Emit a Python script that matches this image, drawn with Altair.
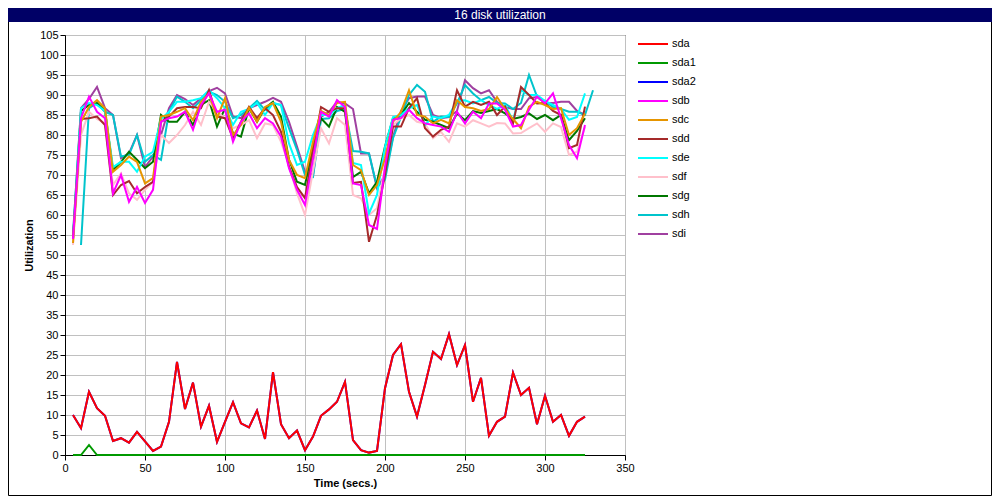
import altair as alt
import pandas as pd

# ---------------- data ----------------
series_names = ["sda", "sda1", "sda2", "sdb", "sdc", "sdd", "sde", "sdf", "sdg", "sdh", "sdi"]
series_colors = ["#ff0000", "#009900", "#0000ff", "#ff00ff", "#e69500", "#a52a2a",
                 "#00ffff", "#ffc0cb", "#007700", "#00c4cc", "#a040a0"]

times = list(range(5, 330, 5))        # 5 .. 325 s
times_sdh = list(range(10, 335, 5))   # sdh is one sample later: 10 .. 330 s

sda = [10, 6.7, 15.8, 11.7, 9.8, 3.5, 4.2, 3.1, 5.8, 3.4, 1.0, 2.1, 8.3, 23.3, 11.5, 18.1,
       7.1, 12.3, 3.3, 8.3, 13.2, 7.9, 6.9, 11.1, 4.0, 20.7, 7.7, 4.2, 6.1, 1.2, 4.6, 9.8,
       11.4, 13.3, 18.3, 3.7, 1.2, 0.6, 1.0, 16.7, 25.0, 27.7, 15.8, 9.6, 17.5, 25.8, 24.0,
       30.2, 22.5, 27.5, 13.3, 19.3, 4.8, 8.3, 9.6, 20.6, 15.0, 16.8, 7.7, 14.8, 8.3, 10.0,
       4.8, 8.3, 9.6]
sda1 = [0, 0, 2.5, 0, 0, 0, 0, 0, 0, 0, 0, 0, 0, 0, 0, 0, 0, 0, 0, 0, 0, 0, 0, 0, 0, 0,
        0, 0, 0, 0, 0, 0, 0, 0, 0, 0, 0, 0, 0, 0, 0, 0, 0, 0, 0, 0, 0, 0, 0, 0, 0, 0, 0, 0,
        0, 0, 0, 0, 0, 0, 0, 0, 0, 0, 0]
sda2 = [10, 6.7, 15.8, 11.7, 9.8, 3.5, 4.2, 3.1, 5.8, 3.4, 1.0, 2.1, 8.3, 23.3, 11.5, 18.1,
        7.1, 12.3, 3.3, 8.3, 13.2, 7.9, 6.9, 11.1, 4.0, 20.7, 7.7, 4.2, 6.1, 1.2, 4.6, 9.8,
        11.4, 13.3, 18.3, 3.7, 1.2, 0.6, 1.0, 16.7, 25.0, 27.7, 15.8, 9.6, 17.5, 25.8, 24.0,
        30.2, 22.5, 27.5, 13.3, 19.3, 4.8, 8.3, 9.6, 20.6, 15.0, 16.8, 7.7, 14.8, 8.3, 10.0,
        4.8, 8.3, 9.6]
sdb = [54, 84.2, 89.6, 85.8, 84.2, 65.4, 70, 63.3, 67, 63, 66.3, 83.3, 84.2, 84.6, 85.8,
       81.3, 87.5, 90.4, 85.8, 86.3, 78.3, 83.3, 85.4, 81.7, 84.2, 82.9, 79.6, 71.7, 66.3,
       62.5, 74, 85.8, 84.6, 88.7, 87, 67.9, 67.5, 57.5, 56.5, 72, 83.8, 84.2, 86.3, 84.2,
       82.9, 82.5, 82.1, 80.8, 85.8, 82.9, 85.8, 84.2, 87.9, 87.9, 86.3, 82.1, 82.5, 86.3,
       89.6, 87.9, 90.4, 84.2, 77.5, 74.2, 82.5]
sdc = [53, 83.3, 87, 88.7, 86.7, 70.8, 72.5, 74.6, 73.3, 67.9, 69.2, 84.6, 85, 85.8, 86.7,
       83.7, 88.3, 90.4, 84.2, 89.2, 80, 82.5, 86.8, 83.3, 87, 88, 83.3, 73.8, 70, 69.2,
       78.3, 86, 85, 88, 88.3, 72.5, 71.2, 65, 67.5, 74.2, 83.3, 85.8, 91.2, 85, 84.6, 82.9,
       83.8, 82.9, 88.7, 87, 86.7, 86, 86.5, 89.5, 86.5, 84, 81.7, 87.1, 88.3, 87.5, 86.5,
       86.7, 80, 81.7, 85.4]
sdd = [54, 84, 84.2, 84.6, 82.5, 65, 67.5, 68.5, 65.4, 67, 68.3, 83.3, 84.6, 86.7, 87, 87,
       86.7, 91.2, 84.6, 84.2, 79.2, 83.3, 87, 84.2, 86.7, 85, 80.8, 72.1, 67, 64.2, 76, 87,
       85.8, 86.7, 86.7, 68, 68.3, 53.3, 60, 70, 82.1, 82.1, 86.7, 89.2, 81.7, 79.6, 81.3,
       82.1, 91.2, 87.1, 88.3, 87.5, 88.3, 85, 87.1, 82.9, 92, 90, 87.9, 88, 86, 85, 76.7,
       77.5, 87.1]
sde = [55, 86.7, 88, 87.5, 86, 72, 73.3, 73.3, 70.8, 74.6, 75.8, 84, 85.8, 88.3, 88.3, 88.7,
       89.2, 91.2, 89.2, 86.7, 82.5, 85.8, 86.5, 88, 85, 88, 87.5, 77.9, 72.5, 73.3, 80, 85,
       85, 86.7, 87.5, 73, 72.5, 60.4, 65, 77, 84.5, 85, 86.7, 87.5, 82.5, 84.6, 84.2, 85,
       88.5, 88.7, 87.9, 88.7, 87.5, 86.5, 87.5, 83.7, 91.2, 90, 90, 88.5, 87.5, 86.5, 83.8,
       84.5, 90.4]
sdf = [52.5, 80, 85.8, 84, 82.9, 67.5, 70.4, 65.4, 63.8, 66.3, 68.3, 80, 78, 80, 82.5, 85.8,
       82.5, 88.3, 85.8, 84.2, 81.7, 82.5, 83.7, 79.2, 82.9, 82.5, 78.3, 72.5, 65.4, 60, 71,
       81.7, 77.9, 84.2, 82.5, 65, 64.2, 60, 61.7, 72, 82.5, 84.2, 85, 83.3, 82.9, 79.2,
       80.8, 78.3, 82.9, 82.1, 83.7, 82.9, 82.1, 83, 82.9, 80.4, 80.5, 81.7, 82.9, 80.8,
       82.9, 82, 75, 75.8, 82]
sdg = [54, 86, 87.5, 88, 86, 71.2, 73.3, 75.8, 73.8, 71.7, 73.3, 85, 83.3, 83.3, 85.8, 82.5,
       87.5, 88.7, 82.1, 86.7, 80.4, 79.6, 86.7, 83.3, 86.7, 88.3, 84.6, 73.8, 68.3, 67.5, 77,
       84.2, 82.1, 87, 85.8, 69.5, 70.8, 65.4, 68.3, 77.1, 84.2, 85, 88, 85.8, 83.8, 83.3,
       82.5, 81.7, 85.4, 83.7, 86, 85.5, 86, 86.5, 85.4, 84, 84.5, 85.4, 84, 85, 83.7, 85,
       78.7, 81, 84.2]
sdh = [52.5, 86.7, 88, 85.8, 85, 74.6, 75, 80, 73.3, 75, 73.8, 85.8, 89.6, 88.3, 86.7, 88.7,
       90.8, 90, 88.3, 84.2, 85, 86.7, 88.5, 86.3, 88, 87.5, 81.7, 76.3, 70, 69.5, 84, 84.2,
       86, 86.5, 76, 75.8, 75.4, 67, 68.8, 79.2, 84.5, 90, 92.5, 90.8, 83.3, 84.6, 84.5,
       87.9, 92.5, 90.4, 88.7, 89.5, 88, 87.9, 86.5, 88, 95, 89.6, 88.5, 87, 86.5, 85.8,
       85.8, 85, 91.2]
sdi = [55, 86.7, 89, 92, 86.7, 85, 74.2, 75.4, 80, 72, 74.6, 80, 86.7, 90, 89, 87.5, 89.2,
       91, 91.8, 90.4, 84.6, 84.2, 86.7, 87.5, 88.3, 89.3, 88.3, 83.3, 77.1, 70.8, 70, 84.5,
       85.8, 88.3, 87.9, 86.5, 75.4, 75.4, 66.7, 70, 79.5, 86, 89.2, 89.6, 89.6, 85, 84.2,
       84.5, 86, 93.7, 91.7, 90.4, 91.2, 88.3, 87, 86.5, 86.5, 89.2, 89.5, 88, 88, 88.3,
       88.3, 86, 85]

series_values = {"sda": sda, "sda1": sda1, "sda2": sda2, "sdb": sdb, "sdc": sdc, "sdd": sdd,
                 "sde": sde, "sdf": sdf, "sdg": sdg, "sdh": sdh, "sdi": sdi}

rows = []
for name in series_names:
    ts = times_sdh if name == "sdh" else times
    vals = series_values[name]
    assert len(ts) == len(vals), (name, len(vals))
    for t, v in zip(ts, vals):
        rows.append({"time": t, "value": v, "series": name})
df = pd.DataFrame(rows)

title_text = "16 disk utilization"
x_title = "Time (secs.)"
y_title = "Utilization"
x_ticks = list(range(0, 351, 50))
y_ticks = list(range(0, 106, 5))

# ---------------- chart ----------------
FONT = "Liberation Sans"
color_scale = alt.Scale(domain=series_names, range=series_colors)

x_enc = alt.X("time:Q",
              scale=alt.Scale(domain=[0, 350], nice=False, zero=False),
              axis=alt.Axis(values=x_ticks, title=x_title, grid=True, tickSize=5,
                            labelPadding=2, titlePadding=4, labelFlush=False))
y_enc = alt.Y("value:Q",
              scale=alt.Scale(domain=[0, 105], nice=False),
              axis=alt.Axis(values=y_ticks, title=y_title, grid=True, tickSize=5,
                            labelPadding=2, titlePadding=5, labelFlush=False))

line_layers = []
for name in reversed(series_names):   # sda drawn last (on top of sda2)
    sub = df[df["series"] == name]
    line_layers.append(
        alt.Chart(sub).mark_line(strokeWidth=2).encode(
            x=x_enc, y=y_enc,
            color=alt.Color("series:N", scale=color_scale, legend=None),
        )
    )
lines = alt.layer(*line_layers)

legend_df = pd.DataFrame({"series": series_names})
legend_y = alt.Y("series:N", sort=series_names,
                 scale=alt.Scale(type="point", range=[9, 199], padding=0), axis=None)
legend_rules = alt.Chart(legend_df).mark_rule(strokeWidth=2).encode(
    x=alt.value(573), x2=alt.value(603), y=legend_y,
    color=alt.Color("series:N", scale=color_scale, legend=None),
)
legend_text = alt.Chart(legend_df).mark_text(
    align="left", baseline="middle", font=FONT, fontSize=11, color="black"
).encode(x=alt.value(607), y=legend_y, text="series:N")
legend = alt.layer(legend_rules, legend_text)

title_df = pd.DataFrame({"t": [title_text]})
title_bar = alt.Chart(title_df).mark_rect(color="#000066").encode(
    x=alt.value(-57), x2=alt.value(927), y=alt.value(-27), y2=alt.value(-13)
)
title_lbl = alt.Chart(title_df).mark_text(
    font=FONT, fontSize=12, color="white", baseline="middle", align="center"
).encode(x=alt.value(435), y=alt.value(-20), text="t:N")
frame = alt.Chart(title_df).mark_rect(fill="transparent", stroke="black", strokeWidth=1).encode(
    x=alt.value(-56.5), x2=alt.value(926.5), y=alt.value(-26.5), y2=alt.value(460.5)
)

chart = alt.layer(frame, title_bar, title_lbl, lines, legend).resolve_scale(
    y="independent"
).properties(
    width=560, height=420,
    autosize=alt.AutoSizeParams(type="none"),
    padding={"left": 57, "top": 27, "right": 367, "bottom": 41},
    background="white",
).configure_view(
    stroke="black", strokeWidth=1
).configure_axis(
    labelFont=FONT, labelFontSize=11, labelColor="black",
    titleFont=FONT, titleFontSize=11, titleFontWeight="bold", titleColor="black",
    domainColor="black", tickColor="black", gridColor="#c0c0c0", gridWidth=1,
)

chart.save("out.html", embed_options={"renderer": "svg", "actions": False})
